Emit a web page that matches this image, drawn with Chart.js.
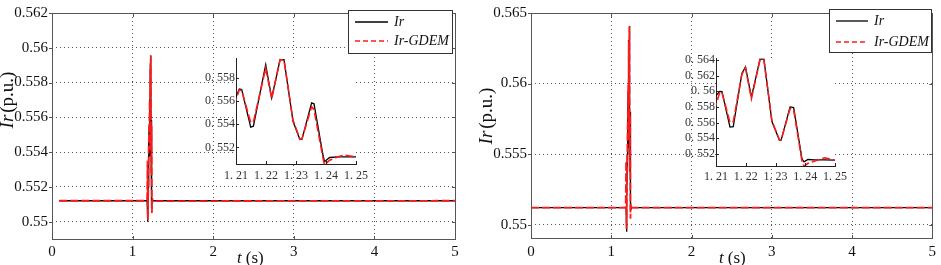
<!DOCTYPE html>
<html>
<head>
<meta charset="utf-8">
<script src="https://cdn.jsdelivr.net/npm/chart.js@4.4.0/dist/chart.umd.min.js"></script>
<style>
  body { margin: 0; background: #fff; width: 941px; height: 265px; position: relative; overflow: hidden; }
  canvas { position: absolute; }
</style>
</head>
<body>
<canvas id="main-left" width="470" height="265" style="left:0;top:0"></canvas>
<canvas id="main-right" width="471" height="265" style="left:470px;top:0"></canvas>
<canvas id="inset-left" width="180" height="135" style="left:196px;top:50px"></canvas>
<canvas id="inset-right" width="180" height="135" style="left:676px;top:50px"></canvas>
<script>
// Left panel - Ir and Ir-GDEM (p.u.)
const tLeft = [0.09, 1.18, 1.185, 1.19, 1.195, 1.2, 1.205,
  1.21, 1.2111, 1.2119, 1.2149, 1.2158, 1.2199, 1.2219, 1.2247, 1.226, 1.229,
  1.2313, 1.232, 1.2352, 1.236, 1.239, 1.2395, 1.2412, 1.244, 1.246, 1.25, 5];
const irLeft = [0.5512, 0.5512, 0.5512, 0.5500, 0.5520, 0.5545, 0.5555,
  0.55633, 0.55703, 0.55698, 0.55375, 0.55383, 0.55911, 0.55625, 0.55955, 0.55955, 0.55425,
  0.55269, 0.55272, 0.55583, 0.55575, 0.55133, 0.55078, 0.55114, 0.55119, 0.5512, 0.5512, 0.5512];
const gdemLeft = [0.5512, 0.5512, 0.5535, 0.5501, 0.5521, 0.5544, 0.5554,
  0.5561, 0.55695, 0.5569, 0.55414, 0.5542, 0.5588, 0.5562, 0.55955, 0.5595, 0.55435,
  0.55272, 0.55275, 0.5555, 0.55525, 0.5511, 0.5505, 0.5509, 0.5512, 0.55135, 0.55118, 0.5512];

// Right panel
const tRight = [0, 1.18, 1.185, 1.19, 1.195, 1.2, 1.205,
  1.21, 1.2113, 1.212, 1.2147, 1.2158, 1.2187, 1.2199, 1.2219, 1.2248, 1.2261, 1.2288,
  1.2313, 1.2319, 1.2349, 1.2361, 1.2389, 1.2396, 1.2409, 1.243, 1.2465, 1.25, 5];
const irRight = [0.5512, 0.5512, 0.5512, 0.5495, 0.5520, 0.5550, 0.5575,
  0.55945, 0.55998, 0.55994, 0.55543, 0.55547, 0.56226, 0.56309, 0.55924, 0.56408, 0.56408, 0.55613,
  0.55377, 0.55377, 0.558, 0.55791, 0.55137, 0.551, 0.55129, 0.55125, 0.55125, 0.55121, 0.5512];
const gdemRight = [0.5512, 0.5512, 0.5545, 0.5497, 0.5522, 0.5552, 0.5572,
  0.5583, 0.5599, 0.55985, 0.55601, 0.5561, 0.56215, 0.563, 0.55903, 0.56405, 0.564, 0.5562,
  0.5538, 0.5538, 0.55779, 0.5576, 0.5511, 0.55042, 0.5508, 0.55108, 0.5515, 0.5512, 0.5512];

// Tick values and labels
const xTicks = [0, 1, 2, 3, 4, 5];
const xLabels = ["0", "1", "2", "3", "4", "5"];
const yTicksLeft = [0.55, 0.552, 0.554, 0.556, 0.558, 0.56, 0.562];
const yLabelsLeft = ["0.55", "0.552", "0.554", "0.556", "0.558", "0.56", "0.562"];
const yTicksRight = [0.55, 0.555, 0.56, 0.565];
const yLabelsRight = ["0.55", "0.555", "0.56", "0.565"];
const insetXTicks = [1.21, 1.22, 1.23, 1.24, 1.25];
const insetXLabels = ["1. 21", "1. 22", "1. 23", "1. 24", "1. 25"];
const insetYTicksLeft = [0.552, 0.554, 0.556, 0.558];
const insetYLabelsLeft = ["0. 552", "0. 554", "0. 556", "0. 558"];
const insetYTicksRight = [0.552, 0.554, 0.556, 0.558, 0.56, 0.562, 0.564];
const insetYLabelsRight = ["0. 552", "0. 554", "0. 556", "0. 558", "0. 56", "0. 562", "0. 564"];

const SERIF = '"Liberation Serif", "Times New Roman", serif';

function toPoints(t, v) {
  return t.map((x, i) => ({ x: x, y: v[i] }));
}

// red dashed series is drawn on top of the black one (lower order = on top)
function datasets(t, ir, gdem, w) {
  return [
    { label: "Ir", data: toPoints(t, ir), borderColor: "#000000", borderWidth: w[0],
      pointRadius: 0, tension: 0, order: 2 },
    { label: "Ir-GDEM", data: toPoints(t, gdem), borderColor: "#ff1a1a", borderWidth: w[1],
      borderDash: [8, 3], pointRadius: 0, tension: 0, order: 1 }
  ];
}

// frame, titles and legend for the big axes
function mainDecor(o) {
  return {
    id: "mainDecor",
    afterDraw(chart) {
      const ctx = chart.ctx;
      const a = chart.chartArea;
      ctx.save();
      ctx.strokeStyle = "#555";
      ctx.lineWidth = 1;
      ctx.strokeRect(Math.round(a.left) + 0.5, Math.round(a.top) + 0.5,
        Math.round(a.right - a.left), Math.round(a.bottom - a.top));
      // tick marks
      ctx.beginPath();
      chart.scales.y.ticks.forEach((tk) => {
        const y = Math.round(chart.scales.y.getPixelForValue(tk.value)) + 0.5;
        ctx.moveTo(a.left - 3, y); ctx.lineTo(a.left, y);
        ctx.moveTo(a.right - 3, y); ctx.lineTo(a.right, y);
      });
      chart.scales.x.ticks.forEach((tk) => {
        const x = Math.round(chart.scales.x.getPixelForValue(tk.value)) + 0.5;
        ctx.moveTo(x, a.top); ctx.lineTo(x, a.top + 4);
        ctx.moveTo(x, a.bottom); ctx.lineTo(x, a.bottom - 3);
      });
      ctx.stroke();

      // y title
      ctx.fillStyle = "#111";
      ctx.textBaseline = "middle";
      ctx.save();
      ctx.translate(o.yTitle[0], o.yTitle[1]);
      ctx.rotate(-Math.PI / 2);
      ctx.font = "italic 19px " + SERIF;
      const w1 = ctx.measureText("Ir").width;
      ctx.font = "19px " + SERIF;
      const w2 = ctx.measureText("(p.u.)").width;
      let x0 = -(w1 + 2 + w2) / 2;
      ctx.font = "italic 19px " + SERIF;
      ctx.textAlign = "left";
      ctx.fillText("Ir", x0, 0);
      ctx.font = "19px " + SERIF;
      ctx.fillText("(p.u.)", x0 + w1 + 2, 0);
      ctx.restore();

      // x title
      ctx.textAlign = "left";
      ctx.font = "italic 17px " + SERIF;
      ctx.fillText("t", o.xTitle[0], o.xTitle[1]);
      const tw = ctx.measureText("t").width;
      ctx.font = "17px " + SERIF;
      ctx.fillText("(s)", o.xTitle[0] + tw + 4, o.xTitle[1]);

      // legend
      const b = o.legend;
      ctx.fillStyle = "#fff";
      ctx.fillRect(b.x, b.y, b.w, b.h);
      ctx.strokeStyle = "#333";
      ctx.strokeRect(b.x + 0.5, b.y + 0.5, b.w, b.h);
      ctx.lineWidth = 1.3;
      ctx.strokeStyle = "#000";
      ctx.beginPath();
      ctx.moveTo(b.lx0, b.r1); ctx.lineTo(b.lx1, b.r1);
      ctx.stroke();
      ctx.strokeStyle = "#ff1a1a";
      ctx.setLineDash([5, 3]);
      ctx.beginPath();
      ctx.moveTo(b.lx0, b.r2); ctx.lineTo(b.lx1, b.r2);
      ctx.stroke();
      ctx.setLineDash([]);
      ctx.fillStyle = "#111";
      ctx.font = "italic 14px " + SERIF;
      ctx.fillText("Ir", b.tx, b.r1);
      ctx.fillText("Ir-GDEM", b.tx, b.r2);
      ctx.restore();
    }
  };
}

const insetDecor = {
  id: "insetDecor",
  beforeDraw(chart) {
    const a = chart.chartArea;
    chart.ctx.save();
    chart.ctx.fillStyle = "#fff";
    chart.ctx.fillRect(a.left, a.top, a.right - a.left, a.bottom - a.top);
    chart.ctx.restore();
  },
  afterDraw(chart) {
    const ctx = chart.ctx;
    const a = chart.chartArea;
    ctx.save();
    ctx.strokeStyle = "#222";
    ctx.lineWidth = 1;
    ctx.beginPath();
    chart.scales.y.ticks.forEach((tk) => {
      const y = Math.round(chart.scales.y.getPixelForValue(tk.value)) + 0.5;
      ctx.moveTo(a.left, y); ctx.lineTo(a.left + 3, y);
    });
    chart.scales.x.ticks.forEach((tk) => {
      const x = Math.round(chart.scales.x.getPixelForValue(tk.value)) + 0.5;
      ctx.moveTo(x, a.bottom); ctx.lineTo(x, a.bottom - 3);
    });
    ctx.stroke();
    ctx.restore();
  }
};

function mainChart(el, t, ir, gdem, y, o) {
  return new Chart(el, {
    type: "line",
    data: { datasets: datasets(t, ir, gdem, [1.3, 1.8]) },
    options: {
      responsive: false,
      animation: false,
      events: [],
      layout: { padding: { left: 0, top: o.top, right: o.right, bottom: 0 } },
      plugins: { legend: { display: false }, tooltip: { enabled: false } },
      scales: {
        x: {
          type: "linear", min: 0, max: 5,
          afterBuildTicks: (s) => { s.ticks = xTicks.map((v) => ({ value: v })); },
          afterFit: (s) => { s.height = o.xHeight; },
          grid: { color: "#555", lineWidth: 1, drawTicks: false },
          border: { display: false, dash: [1, 3] },
          ticks: { color: "#111", autoSkip: false, maxRotation: 0, padding: o.xPad,
            font: { family: SERIF, size: 15 }, callback: (v, i) => xLabels[i] }
        },
        y: {
          type: "linear", min: y.min, max: y.max,
          afterBuildTicks: (s) => { s.ticks = y.ticks.map((v) => ({ value: v })); },
          afterFit: (s) => { s.width = o.yWidth; },
          grid: { color: "#555", lineWidth: 1, drawTicks: false },
          border: { display: false, dash: [1, 3] },
          ticks: { color: "#111", autoSkip: false, padding: 4,
            font: { family: SERIF, size: 15 }, callback: (v, i) => y.labels[i] }
        }
      }
    },
    plugins: [mainDecor(o)]
  });
}

function insetChart(el, t, ir, gdem, y, o) {
  return new Chart(el, {
    type: "line",
    data: { datasets: datasets(t, ir, gdem, [1.3, 1.6]) },
    options: {
      responsive: false,
      animation: false,
      events: [],
      layout: { padding: { left: 0, top: 5, right: o.right, bottom: 0 } },
      plugins: { legend: { display: false }, tooltip: { enabled: false } },
      scales: {
        x: {
          type: "linear", min: 1.21, max: 1.25,
          afterBuildTicks: (s) => { s.ticks = insetXTicks.map((v) => ({ value: v })); },
          afterFit: (s) => { s.height = o.xHeight; },
          grid: { display: false, drawTicks: false },
          border: { display: true, color: "#222", width: 1 },
          ticks: { color: "#333", autoSkip: false, maxRotation: 0, padding: o.xPad,
            font: { family: SERIF, size: 12 }, callback: (v, i) => insetXLabels[i] }
        },
        y: {
          type: "linear", min: y.min, max: y.max,
          afterBuildTicks: (s) => { s.ticks = y.ticks.map((v) => ({ value: v })); },
          afterFit: (s) => { s.width = 40; },
          grid: { display: false, drawTicks: false },
          border: { display: true, color: "#222", width: 1 },
          ticks: { color: "#333", autoSkip: false, padding: 1,
            font: { family: SERIF, size: 12 }, callback: (v, i) => y.labels[i] }
        }
      }
    },
    plugins: [insetDecor]
  });
}

mainChart(document.getElementById("main-left"), tLeft, irLeft, gdemLeft,
  { min: 0.549, max: 0.562, ticks: yTicksLeft, labels: yLabelsLeft },
  { top: 4, right: 15, xHeight: 26, yWidth: 52, xPad: 4,
    yTitle: [8, 100], xTitle: [237, 259],
    legend: { x: 348, y: 10, w: 104, h: 43, lx0: 355, lx1: 388, tx: 394, r1: 22, r2: 41 } });

mainChart(document.getElementById("main-right"), tRight, irRight, gdemRight,
  { min: 0.54905, max: 0.565, ticks: yTicksRight, labels: yLabelsRight },
  { top: 3, right: 5, xHeight: 27, yWidth: 61, xPad: 5,
    yTitle: [17, 116], xTitle: [249, 259],
    legend: { x: 359, y: 9, w: 102, h: 43, lx0: 366, lx1: 398, tx: 404, r1: 21, r2: 42 } });

insetChart(document.getElementById("inset-left"), tLeft, irLeft, gdemLeft,
  { min: 0.55058, max: 0.55967, ticks: insetYTicksLeft, labels: insetYLabelsLeft },
  { right: 20, xHeight: 21, xPad: 5 });

insetChart(document.getElementById("inset-right"), tRight, irRight, gdemRight,
  { min: 0.55046, max: 0.56421, ticks: insetYTicksRight, labels: insetYLabelsRight },
  { right: 21, xHeight: 19, xPad: 4 });
</script>
</body>
</html>
